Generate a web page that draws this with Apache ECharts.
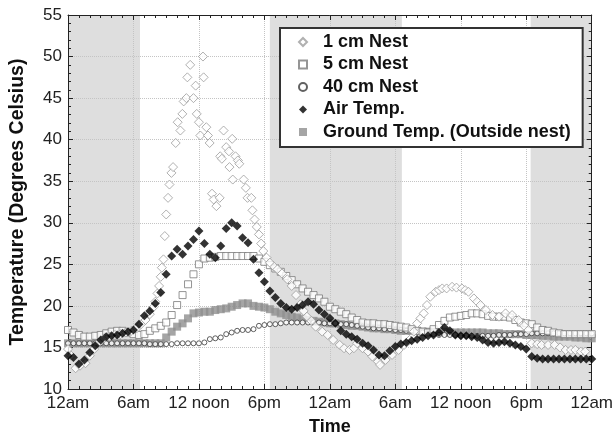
<!DOCTYPE html>
<html>
<head>
<meta charset="utf-8">
<title>Nest temperatures</title>
<script src="https://cdn.jsdelivr.net/npm/echarts@6.0.0/dist/echarts.min.js"></script>
<style>
  html, body { margin: 0; padding: 0; background: #fff; }
  #chart { width: 616px; height: 441px; }
</style>
</head>
<body>
<div id="chart"></div>
<script>
// time axis: hours since the first midnight
const hourLabels = ['12am', '6am', '12 noon', '6pm', '12am', '6am', '12 noon', '6pm', '12am']
const nightBands = [[0, 6.6], [18.5, 30.6], [42.4, 48]]

// half-hourly readings (0h, 0.5h, ... 48h)
const STEP_H = 0.5
const airTemp = [
  14.0, 13.8, 13.0, 13.5, 14.4, 15.2, 15.9, 16.3, 16.4, 16.5, 16.7, 16.9,
  17.1, 17.8, 18.8, 19.4, 20.3, 21.6, 23.8, 26.0, 26.8, 26.2, 27.2, 28.0,
  29.0, 27.5, 26.2, 25.8, 27.2, 29.3, 30.0, 29.6, 28.2, 27.6, 25.6, 24.0,
  22.9, 21.8, 21.0, 20.3, 19.8, 19.6, 19.8, 20.1, 20.5, 20.2, 19.5, 19.0,
  18.5, 17.9, 17.0, 16.6, 16.3, 16.0, 15.5, 15.2, 14.7, 14.1, 14.0, 14.6,
  15.1, 15.4, 15.6, 15.8, 16.0, 16.2, 16.4, 16.5, 16.8, 17.4, 17.0, 16.5,
  16.4, 16.4, 16.3, 16.2, 15.9, 15.6, 15.5, 15.6, 15.7, 15.5, 15.3, 15.1,
  14.8, 13.9, 13.7, 13.6, 13.6, 13.6, 13.6, 13.6, 13.6, 13.6, 13.6, 13.6,
  13.6
]
const nest5cm = [
  17.1, 16.8, 16.5, 16.3, 16.3, 16.4, 16.5, 16.7, 16.9, 17.0, 17.0, 16.8,
  16.6, 16.5, 16.6, 17.0, 17.3, 17.6, 18.0, 18.9, 20.1, 21.3, 22.6, 23.8,
  25.0, 25.7, 25.8, 25.9, 26.0, 26.0, 26.0, 26.0, 26.0, 26.0, 26.0, 25.7,
  25.3, 24.9, 24.5, 24.1, 23.6, 23.1, 22.6, 22.1, 21.7, 21.3, 20.9, 20.5,
  19.9, 19.6, 19.3, 19.0, 18.6, 18.3, 18.0, 17.9, 17.9, 17.8, 17.8, 17.7,
  17.6, 17.5, 17.4, 17.2, 17.0, 16.9, 16.8, 17.2, 17.7, 18.2, 18.6, 18.7,
  18.8, 18.9, 19.1, 19.1, 19.0, 18.8, 18.7, 18.7, 18.7, 18.6, 18.3, 18.0,
  17.9, 17.8, 17.4, 17.1, 17.0, 16.8, 16.7, 16.6, 16.6, 16.6, 16.6, 16.6,
  16.6
]
const nest40cm = [
  15.5, 15.5, 15.5, 15.5, 15.5, 15.5, 15.5, 15.5, 15.5, 15.5, 15.5, 15.5,
  15.5, 15.5, 15.5, 15.4, 15.4, 15.4, 15.4, 15.4, 15.5, 15.5, 15.5, 15.5,
  15.5, 15.6, 16.0, 16.1, 16.2, 16.6, 16.8, 17.0, 17.1, 17.1, 17.2, 17.6,
  17.7, 17.8, 17.8, 17.9, 18.0, 18.0, 18.0, 18.0, 18.0, 18.0, 18.0, 17.9,
  17.9, 17.9, 17.8, 17.8, 17.7, 17.6, 17.5, 17.4, 17.3, 17.3, 17.2, 17.2,
  17.1, 17.1, 17.0, 17.0, 16.9, 16.8, 16.7, 16.6, 16.5, 16.5, 16.5, 16.5,
  16.4, 16.4, 16.4, 16.4, 16.4, 16.4, 16.4, 16.5, 16.5, 16.5, 16.6, 16.6,
  16.6, 16.7, 16.7, 16.7, 16.7, 16.7, 16.7, 16.7, 16.7, 16.7, 16.7, 16.7,
  16.7
]
const groundTemp = [
  15.5, 15.5, 15.5, 15.5, 15.5, 15.5, 15.5, 15.5, 15.5, 15.5, 15.5, 15.5,
  15.5, 15.5, 15.5, 15.5, 15.5, 15.5, 16.2, 16.9, 17.5, 17.9, 18.5, 19.1,
  19.2, 19.3, 19.3, 19.5, 19.6, 19.7, 19.9, 20.1, 20.3, 20.3, 20.0, 19.9,
  19.8, 19.6, 19.3, 19.1, 18.9, 18.7, 18.6, 18.4, 18.3, 18.2, 18.1, 18.0,
  17.9, 17.9, 17.8, 17.7, 17.6, 17.6, 17.5, 17.4, 17.3, 17.3, 17.2, 17.2,
  17.1, 17.0, 17.0, 17.0, 17.0, 16.9, 16.9, 16.9, 16.9, 16.9, 16.8, 16.8,
  16.8, 16.8, 16.8, 16.8, 16.8, 16.7, 16.7, 16.7, 16.6, 16.6, 16.6, 16.6,
  16.5, 16.5, 16.5, 16.4, 16.4, 16.3, 16.3, 16.3, 16.3, 16.2, 16.2, 16.1,
  16.1
]

// 1 cm probe was read at irregular times
const nest1cmHours = [
  0.0, 0.3, 0.7, 1.1, 1.6, 2.0, 2.4, 2.8, 3.3, 3.8, 4.3, 4.8, 5.3, 5.8,
  6.3, 6.7, 7.1, 7.5, 7.8, 8.0, 8.2, 8.35, 8.5, 8.6, 8.75, 8.87, 9.0, 9.17,
  9.3, 9.48, 9.63, 9.87, 10.05, 10.3, 10.48, 10.6, 10.85, 10.94, 11.2, 11.5, 11.7, 11.8,
  12.0, 12.13, 12.37, 12.43, 12.68, 12.83, 12.98, 13.2, 13.35, 13.6, 13.9, 13.95, 14.1, 14.26,
  14.5, 14.75, 14.8, 15.05, 15.1, 15.35, 15.57, 15.7, 16.1, 16.3, 16.45, 16.8, 16.9, 17.1,
  17.3, 17.5, 17.7, 17.9, 18.2, 18.5, 18.9, 19.2, 19.6, 20.1, 20.5, 20.9, 21.3, 21.6,
  21.9, 22.3, 22.7, 23.3, 23.8, 24.3, 24.9, 25.3, 25.8, 26.2, 26.5, 27.0, 27.5, 27.9,
  28.4, 28.6, 29.1, 29.7, 30.3, 30.8, 31.3, 31.7, 32.0, 32.3, 32.6, 32.9, 33.2, 33.7,
  34.0, 34.3, 34.7, 35.2, 35.6, 36.1, 36.4, 36.7, 37.2, 37.5, 37.8, 38.3, 38.9, 39.5,
  40.1, 40.7, 41.3, 41.8, 42.2, 42.5, 43.0, 43.4, 44.0, 44.6, 45.1, 45.6, 46.1, 46.5,
  47.0, 47.4
]
const nest1cm = [
  14.8, 14.0, 12.5, 12.8, 13.1, 14.0, 14.8, 15.6, 16.1, 16.3, 16.5, 16.6, 16.8, 17.0,
  17.3, 17.8, 18.3, 19.0, 19.8, 20.5, 21.5, 22.4, 23.5, 24.6, 25.6, 28.4, 31.0, 33.0,
  34.6, 36.0, 36.7, 39.6, 42.1, 41.1, 43.1, 44.6, 45.0, 47.5, 49.0, 45.0, 46.5, 43.1,
  42.1, 40.5, 50.0, 47.5, 41.5, 40.5, 39.6, 33.5, 32.8, 32.0, 33.0, 38.0, 37.7, 41.1,
  39.1, 38.6, 36.7, 40.1, 35.2, 38.0, 37.5, 37.1, 35.2, 34.2, 33.0, 33.0, 31.5, 30.4,
  29.5, 28.6, 27.5, 26.6, 25.8, 25.2, 24.7, 24.4, 23.9, 23.2, 22.4, 21.3, 20.2, 19.4,
  18.7, 18.2, 17.5, 16.9, 16.5, 15.9, 15.3, 14.9, 14.7, 14.9, 15.5, 14.9, 14.5, 13.9,
  13.3, 12.9, 13.5, 14.1, 14.7, 15.3, 15.9, 16.9, 17.9, 18.5, 19.1, 20.1, 21.1, 21.7,
  21.9, 22.1, 22.1, 22.3, 22.2, 22.1, 21.9, 21.7, 20.9, 20.5, 20.1, 19.5, 18.9, 18.7,
  19.1, 18.9, 18.3, 17.6, 17.1, 15.5, 15.4, 15.3, 15.3, 15.3, 15.0, 14.7, 14.7, 14.7,
  14.5, 14.5
]

const FONT = "'Liberation Sans', Arial, sans-serif"

const gridded = (vals) => vals.map((v, i) => [i * STEP_H, v])
const paired = (hours, vals) => hours.map((h, i) => [h, vals[i]])

const chart = echarts.init(document.getElementById('chart'), null, { renderer: 'canvas' })

const tickStyle = { lineStyle: { color: '#222', width: 1 } }

const option = {
  animation: false,
  backgroundColor: '#fff',
  textStyle: { fontFamily: FONT },
  grid: { left: 68, right: 23, top: 15, bottom: 48, show: false },
  legend: {
    orient: 'vertical',
    left: 280,
    top: 28,
    padding: [5, 12, 6, 18],
    itemWidth: 8,
    itemHeight: 8,
    itemGap: 4.5,
    backgroundColor: '#fff',
    borderColor: '#333',
    borderWidth: 2,
    textStyle: {
      fontFamily: FONT, fontSize: 18, fontWeight: 'bold', color: '#111',
      lineHeight: 18, padding: [0, 0, 0, 11],
    },
    data: ['1 cm Nest', '5 cm Nest', '40 cm Nest', 'Air Temp.', 'Ground Temp. (Outside nest)'],
  },
  xAxis: [
    {
      type: 'value',
      min: 0,
      max: 48,
      interval: 6,
      z: 2,
      name: 'Time',
      nameLocation: 'middle',
      nameGap: 29,
      nameTextStyle: { fontFamily: FONT, fontSize: 18, fontWeight: 'bold', color: '#111' },
      axisLine: { show: true, onZero: false, lineStyle: { color: '#222', width: 1 } },
      axisTick: { show: true, inside: true, length: 5, ...tickStyle },
      minorTick: { show: true, splitNumber: 6, length: 3, ...tickStyle },
      axisLabel: {
        fontFamily: FONT, fontSize: 17, color: '#222', margin: 6,
        formatter: (v) => hourLabels[Math.round(v / 6)],
      },
      splitLine: { show: true, lineStyle: { color: '#c4c4c4', type: 'dotted', width: 1 } },
    },
    {
      type: 'value',
      position: 'top',
      min: 0,
      max: 48,
      interval: 6,
      z: 2,
      axisLine: { show: true, onZero: false, lineStyle: { color: '#222', width: 1 } },
      axisTick: { show: true, inside: true, length: 5, ...tickStyle },
      minorTick: { show: true, splitNumber: 6, length: 3, ...tickStyle },
      axisLabel: { show: false },
      splitLine: { show: false },
    },
  ],
  yAxis: [
    {
      type: 'value',
      min: 10,
      max: 55,
      interval: 5,
      z: 2,
      name: 'Temperature (Degrees Celsius)',
      nameLocation: 'middle',
      nameGap: 40,
      nameTextStyle: { fontFamily: FONT, fontSize: 19.5, fontWeight: 'bold', color: '#111' },
      axisLine: { show: true, onZero: false, lineStyle: { color: '#222', width: 1 } },
      axisTick: { show: true, inside: true, length: 5, ...tickStyle },
      minorTick: { show: true, splitNumber: 5, length: 3, ...tickStyle },
      axisLabel: { fontFamily: FONT, fontSize: 17, color: '#222', margin: 6 },
      splitLine: { show: true, lineStyle: { color: '#c4c4c4', type: 'dotted', width: 1 } },
    },
    {
      type: 'value',
      position: 'right',
      min: 10,
      max: 55,
      interval: 5,
      z: 2,
      axisLine: { show: true, onZero: false, lineStyle: { color: '#222', width: 1 } },
      axisTick: { show: true, inside: true, length: 5, ...tickStyle },
      minorTick: { show: true, splitNumber: 5, length: 3, ...tickStyle },
      axisLabel: { show: false },
      splitLine: { show: false },
    },
  ],
  series: [
    {
      name: 'Ground Temp. (Outside nest)',
      type: 'scatter',
      z: 3,
      symbol: 'rect',
      symbolSize: 8,
      itemStyle: { color: '#8e8e8e' },
      data: gridded(groundTemp),
      markArea: {
        silent: true,
        itemStyle: { color: '#dedede' },
        data: nightBands.map(([a, b]) => [{ xAxis: a }, { xAxis: b }]),
      },
    },
    {
      name: '40 cm Nest',
      type: 'scatter',
      z: 3,
      symbol: 'circle',
      symbolSize: 5,
      itemStyle: { color: '#fff', borderColor: '#3a3a3a', borderWidth: 1 },
      data: gridded(nest40cm),
    },
    {
      name: '5 cm Nest',
      type: 'scatter',
      z: 3,
      symbol: 'rect',
      symbolSize: 7,
      itemStyle: { color: '#fff', borderColor: '#7a7a7a', borderWidth: 1 },
      data: gridded(nest5cm),
    },
    {
      name: '1 cm Nest',
      type: 'scatter',
      z: 3,
      symbol: 'diamond',
      symbolSize: 9,
      itemStyle: { color: '#fff', borderColor: '#9c9c9c', borderWidth: 1 },
      data: paired(nest1cmHours, nest1cm),
    },
    {
      name: 'Air Temp.',
      type: 'scatter',
      z: 3,
      symbol: 'diamond',
      symbolSize: 9,
      itemStyle: { color: '#000' },
      data: gridded(airTemp),
    },
  ],
}

chart.setOption(option)
</script>
</body>
</html>
